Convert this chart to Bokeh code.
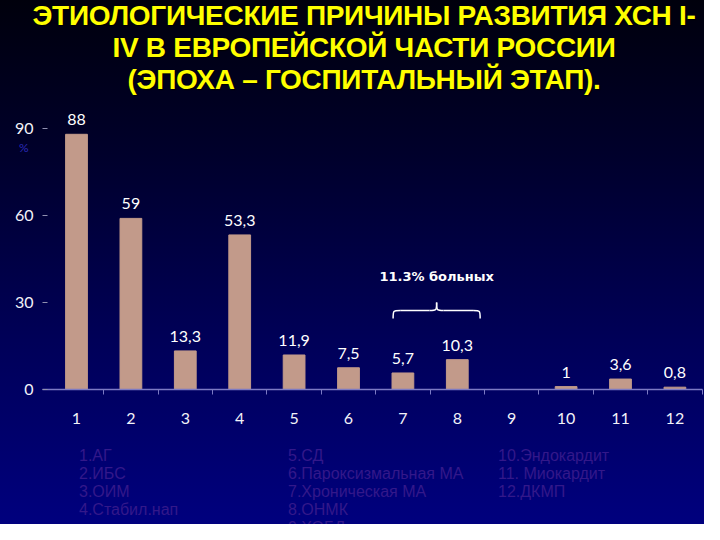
from bokeh.plotting import figure
from bokeh.models import ColumnDataSource, LabelSet, Label, FixedTicker, Range1d, Div, LinearAxis
from bokeh.layouts import column
from bokeh.core.properties import value
from bokeh.embed import file_html
from bokeh.resources import INLINE

# ---------------- data ----------------
categories = ["1", "2", "3", "4", "5", "6", "7", "8", "9", "10", "11", "12"]
values = [88, 59, 13.3, 53.3, 11.9, 7.5, 5.7, 10.3, 0, 1, 3.6, 0.8]
value_labels = ["88", "59", "13,3", "53,3", "11,9", "7,5", "5,7", "10,3", "", "1", "3,6", "0,8"]
y_ticks = [0, 30, 60, 90]
y_unit = "%"
title_lines = [
    "ЭТИОЛОГИЧЕСКИЕ ПРИЧИНЫ РАЗВИТИЯ ХСН I-",
    "IV В ЕВРОПЕЙСКОЙ ЧАСТИ РОССИИ",
    "(ЭПОХА – ГОСПИТАЛЬНЫЙ ЭТАП).",
]
legend_col1 = ["1.АГ", "2.ИБС", "3.ОИМ", "4.Стабил.нап"]
legend_col2 = ["5.СД", "6.Пароксизмальная МА", "7.Хроническая МА", "8.ОНМК", "9.ХОБЛ"]
legend_col3 = ["10.Эндокардит", "11. Миокардит", "12.ДКМП"]
bracket_note = "11.3% больных"
bracket_categories = ["7", "8"]

# ---------------- geometry helpers (reference pixel -> data) ----------------
PX_PER_CAT = 54.4
X0_PX = 84.0
Y0_PX = 397.0
PX_PER_UNIT = 2.9


def px_x(px):
    return 1 + (px - X0_PX) / PX_PER_CAT


def px_y(py):
    return (Y0_PX - py) / PX_PER_UNIT


W = 704
GRADIENT = "linear-gradient(to bottom, #00000c 0%, #00002c 30%, #000058 65%, #00007e 100%)"

# ---------------- title ----------------
title_html = (
    '<div style="position:relative; top:0px; left:24px; width:680px; text-align:center; '
    'white-space:nowrap; font-family:\'Liberation Sans\', Arial, sans-serif; font-weight:bold; '
    'font-size:28px; letter-spacing:-0.3px; line-height:32px; color:#ffff00; '
    'text-shadow:1px 1px 1px #000;">'
    + "<br>".join(title_lines) + "</div>"
)
title_div = Div(text=title_html, width=W, height=100, margin=(0, 0, 0, 0))

# ---------------- chart ----------------
xs = [i + 1 for i in range(len(categories))]
src = ColumnDataSource(dict(x=xs, top=values, lab=value_labels))

p = figure(
    width=W, height=347,
    x_range=Range1d(px_x(50), px_x(710)),
    y_range=Range1d(0, px_y(110)),
    output_backend="svg", toolbar_location=None,
    y_axis_location=None,
    min_border_left=42, min_border_right=2,
    min_border_top=2, min_border_bottom=58,
    margin=(0, 0, 0, 0),
)
p.background_fill_alpha = 0
p.border_fill_alpha = 0
p.outline_line_color = None
p.grid.visible = False

p.vbar(x="x", top="top", width=0.4, source=src, color="#c29a8a")

p.add_layout(LabelSet(x="x", y="top", text="lab", source=src, text_align="center",
                      text_baseline="bottom", y_offset=9, text_color="#ffffff",
                      text_font=value("Lato"), text_font_size="16px"))

# x axis
p.xaxis.ticker = FixedTicker(ticks=xs, minor_ticks=[x + 0.5 for x in xs])
p.xaxis.major_label_overrides = {x: c for x, c in zip(xs, categories)}
p.xaxis.axis_line_color = "#7c7ac4"
p.xaxis.axis_line_width = 1.5
p.xaxis.major_tick_line_color = None
p.xaxis.major_tick_out = 0
p.xaxis.major_tick_in = 0
p.xaxis.minor_tick_line_color = "#7c7ac4"
p.xaxis.minor_tick_out = 5
p.xaxis.minor_tick_in = 0
p.xaxis.major_label_standoff = 18
p.xaxis.major_label_text_color = "#f2f2f8"
p.xaxis.major_label_text_font = "Lato"
p.xaxis.major_label_text_font_size = "16px"

# y axis (main)
yax = LinearAxis(ticker=FixedTicker(ticks=y_ticks))
yax.axis_line_color = None
yax.major_tick_line_color = "#9090b0"
yax.major_tick_in = 5
yax.major_tick_out = 0
yax.minor_tick_line_color = None
yax.major_label_standoff = 9
yax.major_label_text_color = "#f2f2f8"
yax.major_label_text_font = "Lato"
yax.major_label_text_font_size = "16px"
p.add_layout(yax, "left")

# unit mark "%" under the top tick label
unit_y = px_y(155)
uax = LinearAxis(ticker=FixedTicker(ticks=[unit_y]))
uax.major_label_overrides = {unit_y: y_unit}
uax.axis_line_color = None
uax.major_tick_line_color = None
uax.major_tick_in = 0
uax.major_tick_out = 0
uax.minor_tick_line_color = None
uax.major_label_standoff = -17
uax.major_label_text_color = "#2a2ab8"
uax.major_label_text_font = "Lato"
uax.major_label_text_font_size = "12px"
p.add_layout(uax, "left")

# bracket note
ci = xs[categories.index(bracket_categories[0])]
cj = xs[categories.index(bracket_categories[1])]
left = ci - 0.18
right = cj + 0.42
mid = (left + right) / 2
yb = px_y(318)
ytip = px_y(310)
yend = px_y(326)
dx = 0.13
p.bezier(x0=[left, mid - dx, mid, right - dx],
         y0=[yend, yb, ytip, yb],
         x1=[left + dx, mid, mid + dx, right],
         y1=[yb, ytip, yb, yend],
         cx0=[left, mid, mid, right],
         cy0=[yb, yb, yb, yb],
         cx1=[left, mid, mid, right],
         cy1=[yb, yb, yb, yb],
         line_color="#ffffff", line_width=1.5)
p.segment(x0=[left + dx, mid + dx], y0=[yb, yb], x1=[mid - dx, right - dx], y1=[yb, yb],
          line_color="#ffffff", line_width=1.5)
p.add_layout(Label(x=mid, y=px_y(284), text=bracket_note, text_align="center",
                   text_baseline="middle", text_color="#ffffff",
                   text_font="DejaVu Sans", text_font_style="bold", text_font_size="13px"))

# ---------------- legend text ----------------
cols_html = []
for col, xp in ((legend_col1, 79), (legend_col2, 288), (legend_col3, 498)):
    cols_html.append(
        '<div style="position:absolute; top:0px; left:%dpx; white-space:nowrap;">' % xp
        + "<br>".join(col) + "</div>"
    )
legend_html = (
    '<div style="position:relative; width:704px; height:77px; overflow:hidden; '
    'font-family:\'Liberation Sans\', Arial, sans-serif; font-size:16px; line-height:18px; '
    'color:#33188a;">' + "".join(cols_html) + "</div>"
)
legend_div = Div(text=legend_html, width=W, height=77, margin=(0, 0, 0, 0))

layout = column(title_div, p, legend_div, spacing=0, margin=(0, 0, 0, 0),
                styles={"background": GRADIENT})

open("out.html", "w").write(file_html(layout, INLINE))
